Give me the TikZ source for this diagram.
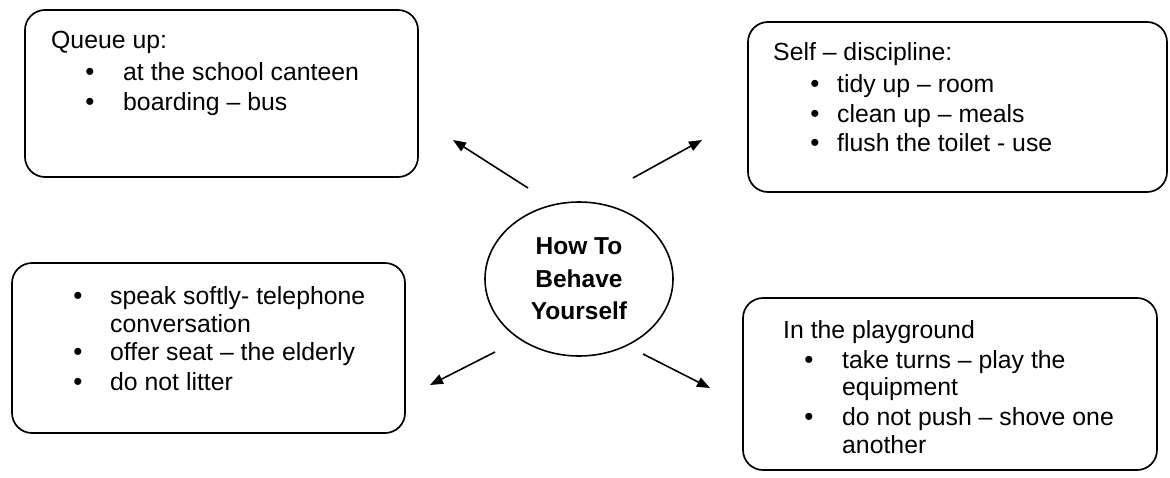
\documentclass[tikz,border=0pt]{standalone}
\usepackage{fontspec}
\setmainfont{Liberation Sans}
\usetikzlibrary{arrows.meta,shapes.geometric}
\begin{document}
\begin{tikzpicture}[x=1pt,y=-1pt,
  box/.style={draw, line width=1.7pt, rounded corners=20pt, inner sep=0pt},
  txt/.style={anchor=base west, inner sep=0pt, font=\fontsize{24.8}{28}\selectfont},
  bul/.style={anchor=base, inner sep=0pt, font=\fontsize{26}{28}\selectfont},
  arr/.style={line width=1.6pt, -{Triangle[length=13pt,width=10pt]}}]
\useasboundingbox (0,0) rectangle (1170,477);
% boxes
\node[box, minimum width=393pt, minimum height=167pt] (tl) at (221.5,93.5) {};
\node[box, minimum width=419pt, minimum height=170pt] (tr) at (957.5,107) {};
\node[box, minimum width=393pt, minimum height=170pt] (bl) at (208.5,348) {};
\node[box, minimum width=414pt, minimum height=172pt] (br) at (950,384) {};
\node[draw, ellipse, line width=1.6pt, minimum width=188pt, minimum height=154pt,
      align=center, inner sep=0pt, font=\fontsize{24.5}{32.5}\selectfont\bfseries] (c) at (579,279)
      {How To\\Behave\\Yourself};
% top left
\node[txt] (tl0) at (51,48) {Queue up:};
\node[bul] (tlb1) at (90,80) {•};
\node[txt] (tl1) at (123,80) {at the school canteen};
\node[bul] (tlb2) at (90,110) {•};
\node[txt] (tl2) at (123,110) {boarding – bus};
% top right
\node[txt] (tr0) at (773,60) {Self – discipline:};
\node[bul] (trb1) at (815,92) {•};
\node[txt] (tr1) at (837,92) {tidy up – room};
\node[bul] (trb2) at (815,122) {•};
\node[txt] (tr2) at (837,122) {clean up – meals};
\node[bul] (trb3) at (815,151) {•};
\node[txt] (tr3) at (837,151) {flush the toilet - use};
% bottom left
\node[bul] (blb1) at (78,304) {•};
\node[txt] (bl1) at (110,304) {speak softly- telephone};
\node[txt] (bl1b) at (110,332) {conversation};
\node[bul] (blb2) at (78,360) {•};
\node[txt] (bl2) at (110,360) {offer seat – the elderly};
\node[bul] (blb3) at (78,390) {•};
\node[txt] (bl3) at (110,390) {do not litter};
% bottom right
\node[txt] (br0) at (783,338) {In the playground};
\node[bul] (brb1) at (809,368) {•};
\node[txt] (br1) at (842,368) {take turns – play the};
\node[txt] (br1b) at (842,395) {equipment};
\node[bul] (brb2) at (809,425) {•};
\node[txt] (br2) at (842,425) {do not push – shove one};
\node[txt] (br2b) at (842,453) {another};
% arrows
\coordinate (a1s) at (528,188); \coordinate (a1e) at (453,140);
\coordinate (a2s) at (633,178); \coordinate (a2e) at (702,140);
\coordinate (a3s) at (495,352); \coordinate (a3e) at (430,385);
\coordinate (a4s) at (643,354); \coordinate (a4e) at (710,388);
\draw[arr] (a1s) -- (a1e);
\draw[arr] (a2s) -- (a2e);
\draw[arr] (a3s) -- (a3e);
\draw[arr] (a4s) -- (a4e);
\end{tikzpicture}
\end{document}
